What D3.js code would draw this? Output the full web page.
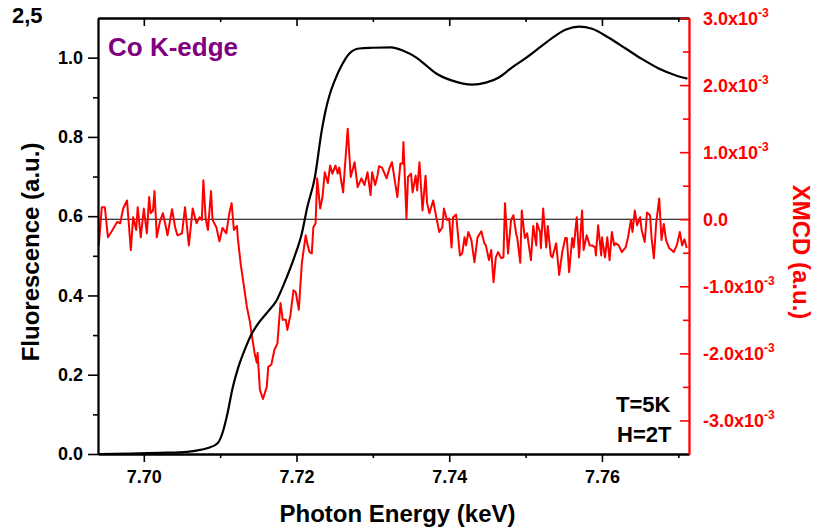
<!DOCTYPE html>
<html>
<head>
<meta charset="utf-8">
<script src="https://cdn.jsdelivr.net/npm/d3@7"></script>
<style>
  body { margin: 0; background: #fff; }
  svg { display: block; font-family: "Liberation Sans", Arial, Helvetica, sans-serif; font-weight: bold; }
</style>
</head>
<body>
<svg id="chart" width="820" height="532"></svg>
<script>
// Co K-edge fluorescence (left axis)
const energyFluo = [
  7.6940, 7.6982, 7.7021, 7.7047, 7.7067, 7.7084, 7.7097, 7.7103, 7.7110, 7.7116,
  7.7123, 7.7132, 7.7141, 7.7149, 7.7162, 7.7174, 7.7184, 7.7197, 7.7207, 7.7214,
  7.7224, 7.7233, 7.7238, 7.7243, 7.7250, 7.7259, 7.7269, 7.7282, 7.7299, 7.7324,
  7.7339, 7.7357, 7.7370, 7.7383, 7.7404, 7.7430, 7.7448, 7.7465, 7.7482, 7.7501,
  7.7518, 7.7535, 7.7553, 7.7570, 7.7587, 7.7609, 7.7631, 7.7652, 7.7675, 7.7697,
  7.7712
];
const fluorescence = [
  0.000, 0.001, 0.003, 0.004, 0.008, 0.015, 0.028, 0.053, 0.106, 0.164,
  0.214, 0.262, 0.302, 0.327, 0.358, 0.388, 0.431, 0.496, 0.557, 0.622,
  0.698, 0.816, 0.866, 0.904, 0.942, 0.980, 1.010, 1.023, 1.025, 1.026,
  1.018, 1.000, 0.980, 0.960, 0.942, 0.932, 0.937, 0.950, 0.975, 1.000,
  1.025, 1.050, 1.071, 1.078, 1.073, 1.050, 1.023, 0.997, 0.972, 0.955,
  0.947
];

// XMCD signal (right axis), in units of 1e-3
const energyXmcd = [
  7.6941, 7.6945, 7.6949, 7.6953, 7.6959, 7.6965, 7.6969, 7.6973, 7.6978, 7.6983,
  7.6986, 7.6990, 7.6992, 7.6996, 7.7000, 7.7004, 7.7007, 7.7009, 7.7012, 7.7014,
  7.7017, 7.7021, 7.7025, 7.7029, 7.7031, 7.7037, 7.7041, 7.7044, 7.7050, 7.7054,
  7.7059, 7.7064, 7.7069, 7.7073, 7.7076, 7.7078, 7.7081, 7.7084, 7.7088, 7.7090,
  7.7095, 7.7099, 7.7103, 7.7108, 7.7112, 7.7115, 7.7118, 7.7122, 7.7123, 7.7127,
  7.7129, 7.7135, 7.7139, 7.7141, 7.7145, 7.7148, 7.7149, 7.7152, 7.7156, 7.7161,
  7.7163, 7.7167, 7.7171, 7.7175, 7.7179, 7.7182, 7.7186, 7.7188, 7.7192, 7.7196,
  7.7199, 7.7203, 7.7207, 7.7212, 7.7214, 7.7217, 7.7220, 7.7222, 7.7225, 7.7227,
  7.7231, 7.7234, 7.7237, 7.7241, 7.7244, 7.7247, 7.7251, 7.7254, 7.7256, 7.7259,
  7.7261, 7.7264, 7.7267, 7.7271, 7.7276, 7.7280, 7.7285, 7.7289, 7.7293, 7.7297,
  7.7299, 7.7303, 7.7306, 7.7308, 7.7312, 7.7318, 7.7322, 7.7325, 7.7332, 7.7336,
  7.7339, 7.7340, 7.7344, 7.7346, 7.7350, 7.7352, 7.7356, 7.7358, 7.7361, 7.7365,
  7.7369, 7.7371, 7.7374, 7.7379, 7.7383, 7.7387, 7.7391, 7.7393, 7.7397, 7.7400,
  7.7403, 7.7405, 7.7409, 7.7414, 7.7417, 7.7420, 7.7422, 7.7425, 7.7429, 7.7433,
  7.7437, 7.7442, 7.7446, 7.7448, 7.7452, 7.7455, 7.7458, 7.7461, 7.7464, 7.7468,
  7.7471, 7.7473, 7.7477, 7.7481, 7.7484, 7.7488, 7.7489, 7.7493, 7.7495, 7.7499,
  7.7502, 7.7507, 7.7510, 7.7514, 7.7515, 7.7519, 7.7520, 7.7523, 7.7527, 7.7529,
  7.7533, 7.7535, 7.7540, 7.7544, 7.7548, 7.7552, 7.7554, 7.7557, 7.7561, 7.7563,
  7.7567, 7.7570, 7.7574, 7.7576, 7.7580, 7.7584, 7.7587, 7.7591, 7.7592, 7.7595,
  7.7599, 7.7600, 7.7604, 7.7607, 7.7610, 7.7613, 7.7616, 7.7618, 7.7622, 7.7626,
  7.7631, 7.7634, 7.7638, 7.7640, 7.7643, 7.7646, 7.7650, 7.7652, 7.7656, 7.7659,
  7.7663, 7.7665, 7.7668, 7.7671, 7.7675, 7.7678, 7.7681, 7.7684, 7.7688, 7.7694,
  7.7698, 7.7702, 7.7705, 7.7708, 7.7711
];
const xmcd = [
  -0.39, 0.18, 0.18, -0.27, -0.16, -0.04, -0.06, 0.16, 0.28, -0.46,
  0.03, -0.16, 0.18, -0.27, 0.16, -0.21, 0.33, 0.09, 0.13, 0.42,
  -0.27, -0.04, 0.09, -0.12, -0.24, 0.15, -0.12, -0.24, -0.21, 0.18,
  -0.39, 0.16, -0.06, 0.03, -0.01, 0.58, 0.01, -0.16, 0.42, -0.01,
  -0.12, -0.33, -0.13, -0.21, 0.09, 0.24, -0.16, -0.10, -0.27, -0.68,
  -0.83, -1.31, -1.53, -1.70, -1.99, -2.14, -1.99, -2.54, -2.68, -2.50,
  -2.20, -2.17, -1.95, -1.85, -1.25, -1.50, -1.50, -1.65, -1.43, -1.06,
  -1.09, -1.35, -0.65, -0.24, -0.36, -0.49, -0.51, -0.12, -0.06, 0.61,
  0.16, 0.33, 0.70, 0.54, 0.80, 0.68, 0.80, 0.68, 0.77, 0.54,
  0.40, 0.88, 1.35, 0.63, 0.85, 0.48, 0.61, 0.51, 0.70, 0.36,
  0.70, 0.51, 0.65, 0.79, 0.77, 0.61, 0.77, 0.85, 0.33, 0.83,
  0.83, 1.15, 0.01, 0.63, 0.68, 0.40, 0.65, 0.43, 0.85, 0.13,
  0.65, 0.24, 0.09, 0.28, 0.03, -0.19, -0.12, 0.16, -0.01, 0.01,
  -0.42, 0.03, 0.07, -0.54, -0.51, -0.27, -0.39, -0.19, -0.31, -0.64,
  -0.27, -0.18, -0.36, -0.39, -0.61, -0.46, -0.94, -0.57, -0.49, -0.58,
  -0.57, 0.24, -0.51, -0.01, 0.06, -0.24, -0.27, -0.65, 0.13, -0.28,
  -0.21, -0.61, -0.10, -0.39, -0.06, -0.19, -0.43, 0.16, -0.42, -0.10,
  -0.54, -0.57, -0.36, -0.83, -0.49, -0.28, -0.28, -0.79, -0.28, -0.42,
  0.03, -0.57, 0.13, -0.46, -0.24, -0.39, -0.39, -0.42, -0.54, -0.09,
  -0.54, -0.27, -0.57, -0.27, -0.61, -0.19, -0.39, -0.36, -0.39, -0.49,
  -0.42, -0.28, -0.01, -0.19, 0.13, -0.09, 0.03, -0.16, -0.34, 0.10,
  0.06, -0.28, -0.58, -0.06, 0.31, -0.31, -0.07, -0.31, -0.43, -0.49,
  -0.39, -0.19, -0.39, -0.30, -0.43
];

const xTicks = [7.70, 7.72, 7.74, 7.76];
const xMinorTicks = [7.71, 7.73, 7.75, 7.77];
const yLeftTicks = [0.0, 0.2, 0.4, 0.6, 0.8, 1.0];
const yLeftMinorTicks = [0.1, 0.3, 0.5, 0.7, 0.9];
const yRightTicks = [-3, -2, -1, 0, 1, 2, 3];
const yRightMinorTicks = [-2.5, -1.5, -0.5, 0.5, 1.5, 2.5];

const RED = "#ff0000";
const PURPLE = "#800080";

const svg = d3.select("#chart");
const box = { left: 98, right: 689, top: 18, bottom: 454 };

const x = d3.scaleLinear().domain([7.694, 7.7714]).range([box.left, box.right]);
const yL = d3.scaleLinear().domain([0, 1.1]).range([box.bottom, box.top]);
const yR = d3.scaleLinear().domain([-3.5, 3.0]).range([box.bottom, box.top]);

// plain ASCII hyphen for negative numbers
const fmt1 = v => v.toFixed(1);

const fluoData = energyFluo.map((e, i) => ({ e, v: fluorescence[i] }));
const xmcdData = energyXmcd.map((e, i) => ({ e, v: xmcd[i] }));

// zero line of the XMCD signal
svg.append("line")
  .attr("x1", box.left).attr("x2", box.right)
  .attr("y1", yR(0)).attr("y2", yR(0))
  .attr("stroke", "#000").attr("stroke-width", 1.1);

// XMCD trace
svg.append("path")
  .datum(xmcdData)
  .attr("fill", "none")
  .attr("stroke", RED)
  .attr("stroke-width", 2)
  .attr("stroke-linejoin", "round")
  .attr("d", d3.line().x(d => x(d.e)).y(d => yR(d.v)));

// fluorescence trace
svg.append("path")
  .datum(fluoData)
  .attr("fill", "none")
  .attr("stroke", "#000")
  .attr("stroke-width", 2.2)
  .attr("d", d3.line().curve(d3.curveMonotoneX).x(d => x(d.e)).y(d => yL(d.v)));

function styleAxis(g, color) {
  g.selectAll("path.domain").attr("stroke", color).attr("stroke-width", 1.8);
  g.selectAll(".tick line").attr("stroke", color).attr("stroke-width", 1.6);
  g.selectAll(".tick text").attr("fill", color).attr("font-family", null).attr("font-weight", "bold");
}

const inDomain = v => v >= x.domain()[0] && v <= x.domain()[1];

// bottom axis
const gB = svg.append("g").attr("transform", `translate(0,${box.bottom})`)
  .call(d3.axisBottom(x).tickValues(xTicks).tickSize(8).tickSizeOuter(0).tickPadding(8)
    .tickFormat(d3.format(".2f")));
styleAxis(gB, "#000");
gB.selectAll(".tick text").attr("font-size", 18);
const gBm = svg.append("g").attr("transform", `translate(0,${box.bottom})`)
  .call(d3.axisBottom(x).tickValues(xMinorTicks.filter(inDomain)).tickSize(4).tickSizeOuter(0).tickFormat(""));
styleAxis(gBm, "#000");

// top axis, ticks pointing inward
const gT = svg.append("g").attr("transform", `translate(0,${box.top})`)
  .call(d3.axisTop(x).tickValues(xTicks).tickSize(-8).tickSizeOuter(0).tickFormat(""));
styleAxis(gT, "#000");
const gTm = svg.append("g").attr("transform", `translate(0,${box.top})`)
  .call(d3.axisTop(x).tickValues(xMinorTicks.filter(inDomain)).tickSize(-4).tickSizeOuter(0).tickFormat(""));
styleAxis(gTm, "#000");

// left axis
const gL = svg.append("g").attr("transform", `translate(${box.left},0)`)
  .call(d3.axisLeft(yL).tickValues(yLeftTicks).tickSize(10).tickSizeOuter(0).tickPadding(5)
    .tickFormat(fmt1));
styleAxis(gL, "#000");
gL.selectAll(".tick text").attr("font-size", 18);
const gLm = svg.append("g").attr("transform", `translate(${box.left},0)`)
  .call(d3.axisLeft(yL).tickValues(yLeftMinorTicks).tickSize(5).tickSizeOuter(0).tickFormat(""));
styleAxis(gLm, "#000");

// right axis (XMCD), ticks pointing inward
const gR = svg.append("g").attr("transform", `translate(${box.right},0)`)
  .call(d3.axisRight(yR).tickValues(yRightTicks).tickSize(-9).tickSizeOuter(0).tickPadding(14)
    .tickFormat(""));
styleAxis(gR, RED);
const gRm = svg.append("g").attr("transform", `translate(${box.right},0)`)
  .call(d3.axisRight(yR).tickValues(yRightMinorTicks).tickSize(-6).tickSizeOuter(0).tickFormat(""));
styleAxis(gRm, RED);

gR.selectAll(".tick").each(function (d) {
  const t = d3.select(this).append("text")
    .attr("x", 14).attr("y", 6.5)
    .attr("fill", RED).attr("font-size", 18).attr("font-weight", "bold")
    .attr("text-anchor", "start");
  if (d === 0) {
    t.text("0.0");
  } else {
    t.append("tspan").text(fmt1(d) + "x10");
    t.append("tspan").attr("font-size", 12).attr("dy", -8).text("-3");
  }
});

// axis titles
svg.append("text")
  .attr("x", (box.left + box.right) / 2 + 4).attr("y", 522)
  .attr("text-anchor", "middle").attr("font-size", 24).attr("fill", "#000")
  .text("Photon Energy (keV)");

svg.append("text")
  .attr("transform", `translate(39,252) rotate(-90)`)
  .attr("text-anchor", "middle").attr("font-size", 24).attr("fill", "#000")
  .text("Fluorescence (a.u.)");

svg.append("text")
  .attr("transform", `translate(793,252) rotate(90)`)
  .attr("text-anchor", "middle").attr("font-size", 24).attr("fill", RED)
  .text("XMCD (a.u.)");

// annotations
svg.append("text")
  .attr("x", 108).attr("y", 56)
  .attr("font-size", 26).attr("fill", PURPLE)
  .text("Co K-edge");

svg.append("text").attr("x", 616).attr("y", 412)
  .attr("font-size", 22).attr("fill", "#000").text("T=5K");
svg.append("text").attr("x", 617).attr("y", 442)
  .attr("font-size", 22).attr("fill", "#000").text("H=2T");

// panel label in the top-left corner
svg.append("text").attr("x", 12).attr("y", 23)
  .attr("font-size", 22).attr("fill", "#000").text("2,5");
</script>
</body>
</html>
